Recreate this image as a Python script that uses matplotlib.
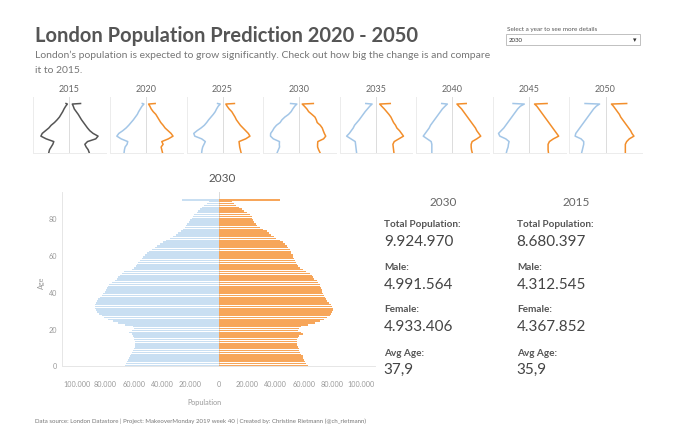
import matplotlib
matplotlib.use("Agg")
import matplotlib.pyplot as plt
from matplotlib.patches import Rectangle

W, H = 680, 431

# ---------------- data ----------------
# 2030 population by single year of age (90 = 90+), in thousands
ages = list(range(91))
male_2030 = [66.2, 65.5, 65.0, 64.1, 63.4, 62.7, 61.7, 61.0, 60.3, 59.9,
             59.2, 58.9, 58.9, 59.2, 59.6, 59.9, 60.3, 61.5, 63.1, 61.5,
             59.5, 60.5, 66.2, 70.9, 74.4, 78.0, 80.8, 82.6, 84.3, 85.7,
             86.6, 87.0, 87.3, 87.3, 86.9, 86.2, 85.0, 83.8, 82.6, 81.5,
             80.3, 79.6, 78.6, 78.0, 77.2, 75.6, 73.2, 72.0, 70.9, 69.7,
             68.5, 67.0, 61.0, 59.5, 58.5, 57.5, 56.8, 55.6, 54.5, 53.3,
             52.0, 50.5, 49.0, 47.4, 45.0, 43.4, 41.5, 39.2, 36.9, 34.5,
             32.0, 30.3, 28.6, 27.0, 25.6, 24.2, 23.2, 22.3, 21.0, 20.0,
             19.2, 18.5, 17.6, 15.7, 14.6, 13.4, 12.0, 10.6, 8.7, 6.8, 25.8]
female_2030 = [63.0, 61.7, 60.8, 60.1, 59.4, 59.0, 58.2, 57.5, 56.6, 56.3,
               55.9, 55.4, 55.2, 55.2, 55.4, 55.9, 56.6, 59.0, 58.2, 55.9,
               56.6, 58.2, 63.0, 67.6, 71.0, 74.0, 76.5, 78.2, 79.3, 80.0,
               80.5, 80.5, 80.0, 78.9, 77.7, 76.3, 75.4, 74.6, 74.0, 73.5,
               73.0, 73.0, 72.3, 71.6, 71.0, 70.0, 68.8, 66.9, 66.0, 65.3,
               64.0, 61.7, 59.4, 57.5, 55.9, 54.7, 54.2, 53.8, 53.0, 52.3,
               52.0, 51.0, 50.5, 50.0, 49.0, 48.0, 46.7, 45.3, 43.0, 40.6,
               38.7, 37.0, 35.2, 33.6, 31.2, 28.9, 27.0, 26.0, 25.0, 24.2,
               23.5, 23.0, 21.8, 19.5, 17.6, 16.0, 14.3, 12.4, 10.8, 9.4, 43.0]

# small multiples: population (thousands) at selected ages
sm_years = ["2015", "2020", "2025", "2030", "2035", "2040", "2045", "2050"]
sm_ages = [0, 5, 10, 15, 20, 25, 30, 35, 40, 45, 50, 55, 60, 65, 70, 75, 80, 85, 89, 90]
sm_male = {
    "2015": [62, 60, 55, 50, 47, 70, 86, 82, 72, 62, 55, 45, 37, 30, 25, 20, 16, 11, 6, 10],
    "2020": [66, 65, 63, 57, 55, 75, 88, 82, 70, 60, 52, 45, 38, 32, 26, 22, 17, 12, 6, 11],
    "2025": [63, 62, 60, 56, 52, 63, 84, 87, 77, 65, 55, 48, 42, 35, 28, 22, 18, 13, 7, 15],
    "2035": [58, 59, 60, 61, 62, 75, 88, 80, 74, 68, 64, 57, 50, 44, 38, 32, 25, 18, 11, 30],
    "2040": [62, 62, 62, 62, 64, 76, 88, 82, 76, 70, 66, 60, 54, 48, 42, 36, 30, 22, 15, 32],
    "2045": [68, 66, 63, 62, 60, 70, 88, 92, 84, 76, 70, 64, 58, 52, 46, 40, 34, 26, 14, 48],
    "2050": [72, 70, 68, 66, 66, 74, 92, 90, 84, 78, 72, 66, 60, 54, 48, 42, 36, 28, 18, 62],
}
sm_female = {
    "2015": [60, 57, 51, 47, 55, 80, 87, 72, 62, 55, 49, 43, 37, 32, 27, 21, 15, 12, 9, 34],
    "2020": [50, 48, 46, 52, 48, 68, 82, 76, 67, 58, 52, 45, 40, 35, 30, 22, 16, 12, 8, 28],
    "2025": [56, 54, 52, 51, 50, 70, 83, 78, 70, 62, 54, 48, 42, 38, 33, 28, 20, 14, 10, 36],
    "2035": [55, 54, 53, 52, 56, 70, 84, 78, 72, 64, 60, 54, 50, 46, 40, 33, 26, 18, 12, 44],
    "2040": [60, 58, 57, 57, 60, 74, 86, 80, 74, 70, 64, 58, 52, 46, 40, 34, 28, 20, 14, 42],
    "2045": [59, 58, 58, 58, 62, 74, 90, 84, 78, 72, 66, 60, 54, 48, 42, 36, 30, 24, 17, 55],
    "2050": [60, 60, 60, 60, 64, 72, 86, 80, 76, 70, 64, 58, 52, 46, 42, 36, 30, 24, 18, 64],
}
# 2030 panel uses the same single-age data as the main pyramid
sm_male["2030"] = [male_2030[a] for a in sm_ages]
sm_female["2030"] = [female_2030[a] for a in sm_ages]

x_ticks = [-100, -80, -60, -40, -20, 0, 20, 40, 60, 80, 100]
y_ticks = [0, 20, 40, 60, 80]

stats_headers = ["2030", "2015"]
stats_labels = ["Total Population:", "Male:", "Female:", "Avg Age:"]
stats_2030 = ["9.924.970", "4.991.564", "4.933.406", "37,9"]
stats_2015 = ["8.680.397", "4.312.545", "4.367.852", "35,9"]

title = "London Population Prediction 2020 - 2050"
subtitle1 = "London\u2019s population is expected to grow significantly. Check out how big the change is and compare"
subtitle2 = "it to 2015."
footer = ("Data source: London Datastore | Project: MakeoverMonday 2019 week 40 | "
          "Created by: Christine Rietmann (@ch_rietmann)")

# ---------------- style ----------------
FONT = ["Lato", "DejaVu Sans"]
plt.rcParams["font.family"] = FONT
BLUE_LINE = "#a3c6e7"
ORANGE_LINE = "#f28e2b"
GRAY_LINE = "#555555"
BLUE_BAR = "#c9dff2"
ORANGE_BAR = "#f7a65a"


def fx(x):
    return x / W


def fy(y):
    return 1 - y / H


fig = plt.figure(figsize=(W / 100, H / 100), dpi=100)
fig.patch.set_facecolor("white")

# ---------------- header ----------------
fig.text(fx(35), fy(42.5), title, fontsize=14.5, fontweight="bold", color="#555555",
         va="baseline", ha="left")
fig.text(fx(35), fy(58.5), subtitle1, fontsize=7.5, color="#777777", va="baseline", ha="left")
fig.text(fx(35), fy(73.0), subtitle2, fontsize=7.5, color="#777777", va="baseline", ha="left")

fig.text(fx(507), fy(29), "Select a year to see more details", fontsize=4.6, color="#555555",
         va="center", ha="left")
fig.add_artist(Rectangle((fx(506), fy(45.5)), fx(640) - fx(506), fy(35) - fy(45.5),
                         transform=fig.transFigure, facecolor="white", edgecolor="#b5b5b5",
                         linewidth=0.6))
fig.text(fx(509), fy(40.5), "2030", fontsize=4.4, color="#333333", va="center", ha="left")
fig.text(fx(634.5), fy(40.5), "\u25be", fontsize=5, color="#333333", va="center", ha="center",
         family="DejaVu Sans")

# ---------------- small multiples ----------------
for i, yr in enumerate(sm_years):
    left = 33.3 + 76.6 * i
    axs = fig.add_axes([fx(left), fy(154), 72.7 / W, (154 - 98.3) / H])
    if yr == "2015":
        cm, cf = GRAY_LINE, GRAY_LINE
    else:
        cm, cf = BLUE_LINE, ORANGE_LINE
    axs.axvline(0, color="#dcdcdc", lw=0.7, zorder=1)
    axs.plot([-v for v in sm_male[yr]], sm_ages, color=cm, lw=1.1, zorder=3,
             solid_joinstyle="round")
    axs.plot(sm_female[yr], sm_ages, color=cf, lw=1.1, zorder=3, solid_joinstyle="round")
    axs.set_xlim(-109, 111)
    axs.set_ylim(-1, 101.4)
    axs.set_xticks([])
    axs.set_yticks([])
    for s in ["top", "right"]:
        axs.spines[s].set_visible(False)
    for s in ["left", "bottom"]:
        axs.spines[s].set_color("#ececec")
        axs.spines[s].set_linewidth(0.7)
    axs.patch.set_alpha(0)
    fig.text(fx(left + 36), fy(90), yr, fontsize=6.5, color="#666666", ha="center", va="center")

# ---------------- main pyramid ----------------
ax = fig.add_axes([fx(62.3), fy(367.4), (375 - 62.3) / W, (367.4 - 193) / H])
ax.barh(ages, [-v for v in male_2030], height=0.78, color=BLUE_BAR, linewidth=0, zorder=2)
ax.barh(ages, female_2030, height=0.78, color=ORANGE_BAR, linewidth=0, zorder=2)
ax.axvline(0, color="#dadada", lw=0.7, zorder=1)
ax.set_xlim(-110.3, 110.0)
ax.set_ylim(-0.6, 94.3)
ax.set_xticks(x_ticks)
ax.set_xticklabels(["0" if v == 0 else f"{abs(v) * 1000:,}".replace(",", ".") for v in x_ticks])
ax.set_yticks(y_ticks)
ax.set_yticklabels([str(v) for v in y_ticks])
ax.tick_params(axis="x", length=0, pad=10, labelsize=5.2, labelcolor="#9a9a9a")
ax.tick_params(axis="y", length=0, pad=3.5, labelsize=5.2, labelcolor="#9a9a9a")
for s in ["top", "right"]:
    ax.spines[s].set_visible(False)
for s in ["left", "bottom"]:
    ax.spines[s].set_color("#e6e6e6")
    ax.spines[s].set_linewidth(0.7)

fig.text(fx(221.7), fy(179), "2030", fontsize=8.5, color="#555555", ha="center", va="center")
fig.text(fx(41.7), fy(283), "Age", fontsize=5.2, color="#9a9a9a", ha="center", va="center",
         rotation=90)
fig.text(fx(204), fy(402.3), "Population", fontsize=5.2, color="#9a9a9a", ha="center",
         va="center")

# ---------------- stats ----------------
col_x = [384.3, 517.0]
head_x = [443.0, 576.0]
label_y = [224.3, 267.7, 310.0, 353.3]
value_y = [242.3, 285.0, 326.7, 370.0]
for c, (hdr, vals) in enumerate(zip(stats_headers, [stats_2030, stats_2015])):
    fig.text(fx(head_x[c]), fy(202.3), hdr, fontsize=8.5, color="#666666", ha="center",
             va="center")
    for lab, val, ly, vy in zip(stats_labels, vals, label_y, value_y):
        fig.text(fx(col_x[c]), fy(ly), lab, fontsize=7.2, fontweight="bold", color="#555555",
                 ha="left", va="center")
        fig.text(fx(col_x[c] - 0.5), fy(vy), val, fontsize=11, fontweight="normal",
                 color="#444444", ha="left", va="center")

# ---------------- footer ----------------
fig.text(fx(35), fy(421), footer, fontsize=4.4, color="#777777", ha="left", va="center")

fig.savefig("out.png", dpi=100, facecolor="white")
